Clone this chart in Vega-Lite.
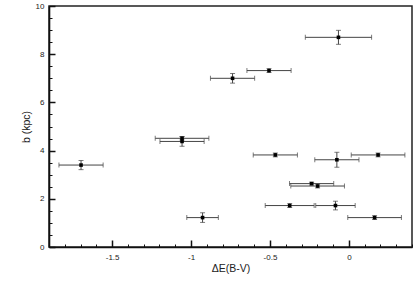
{
  "$schema": "https://vega.github.io/schema/vega-lite/v6.json",
  "width": 363,
  "height": 241,
  "autosize": "none",
  "padding": {"left": 49, "top": 6, "right": 7, "bottom": 49},
  "background": "white",
  "config": {
    "view": {"stroke": "#222222", "strokeWidth": 1.5},
    "font": "Liberation Sans",
    "axis": {"grid": false, "domainColor": "#111111", "domainWidth": 1.6, "tickColor": "#111111", "tickWidth": 1.2, "labelFontSize": 8, "labelColor": "#222222", "titleFontSize": 10.5, "titleFontWeight": "normal", "titleColor": "#222222", "labelOverlap": false, "labelFlush": false}
  },
  "resolve": {"axis": {"x": "independent", "y": "independent"}},
  "data": {
    "values": [
      {"x": -1.697, "y": 3.40, "ex": 0.14, "ey": 0.19},
      {"x": -1.057, "y": 4.51, "ex": 0.17, "ey": 0.07},
      {"x": -1.057, "y": 4.38, "ex": 0.14, "ey": 0.20},
      {"x": -0.927, "y": 1.22, "ex": 0.10, "ey": 0.20},
      {"x": -0.737, "y": 7.00, "ex": 0.14, "ey": 0.20},
      {"x": -0.506, "y": 7.32, "ex": 0.14, "ey": 0.08},
      {"x": -0.466, "y": 3.82, "ex": 0.14, "ey": 0.08},
      {"x": -0.066, "y": 8.70, "ex": 0.21, "ey": 0.29},
      {"x": -0.076, "y": 3.62, "ex": 0.14, "ey": 0.31},
      {"x": 0.185, "y": 3.82, "ex": 0.17, "ey": 0.08},
      {"x": -0.236, "y": 2.63, "ex": 0.14, "ey": 0.06},
      {"x": -0.198, "y": 2.53, "ex": 0.17, "ey": 0.08},
      {"x": -0.375, "y": 1.72, "ex": 0.155, "ey": 0.08},
      {"x": -0.085, "y": 1.72, "ex": 0.125, "ey": 0.18},
      {"x": 0.163, "y": 1.22, "ex": 0.17, "ey": 0.08}
    ]
  },
  "layer": [
    {
      "mark": {"type": "errorbar", "ticks": {"size": 5, "color": "#444444", "strokeWidth": 1}, "rule": {"color": "#444444", "strokeWidth": 1}},
      "encoding": {
        "x": {
          "field": "x", "type": "quantitative", "title": "ΔE(B-V)",
          "scale": {"domain": [-1.9, 0.4], "nice": false, "zero": false},
          "axis": {
            "orient": "bottom",
            "title": "ΔE(B-V)",
            "values": [-1.5, -1, -0.5, 0],
            "labelExpr": "'' + datum.value",
            "tickSize": -7,
            "tickWidth": 1.5,
            "labelPadding": 13,
            "titlePadding": 2
          }
        },
        "xError": {"field": "ex"},
        "y": {
          "field": "y", "type": "quantitative", "title": "b (kpc)",
          "scale": {"domain": [0, 10], "nice": false, "zero": false},
          "axis": {
            "orient": "left",
            "title": "b (kpc)",
            "values": [0, 2, 4, 6, 8, 10],
            "labelExpr": "'' + datum.value",
            "tickSize": -6,
            "tickWidth": 1.5,
            "labelPadding": 11,
            "titlePadding": 4
          }
        }
      }
    },
    {
      "mark": {"type": "errorbar", "ticks": {"size": 5, "color": "#444444", "strokeWidth": 1}, "rule": {"color": "#444444", "strokeWidth": 1}},
      "encoding": {
        "y": {"field": "y", "type": "quantitative", "axis": null},
        "yError": {"field": "ey"},
        "x": {"field": "x", "type": "quantitative", "axis": null}
      }
    },
    {
      "mark": {"type": "square", "size": 13, "color": "black", "opacity": 1, "filled": true},
      "encoding": {
        "x": {
          "field": "x", "type": "quantitative",
          "axis": {
            "orient": "bottom", "title": null, "labels": false, "domain": false,
            "values": [-1.9, -1.8, -1.7, -1.6, -1.4, -1.3, -1.2, -1.1, -0.9, -0.8, -0.7, -0.6, -0.4, -0.3, -0.2, -0.1, 0.1, 0.2, 0.3, 0.4],
            "tickSize": -3, "tickWidth": 1
          }
        },
        "y": {
          "field": "y", "type": "quantitative",
          "axis": {
            "orient": "left", "title": null, "labels": false, "domain": false,
            "values": [0.5, 1, 1.5, 2.5, 3, 3.5, 4.5, 5, 5.5, 6.5, 7, 7.5, 8.5, 9, 9.5],
            "tickSize": -3, "tickWidth": 1
          }
        }
      }
    }
  ]
}
